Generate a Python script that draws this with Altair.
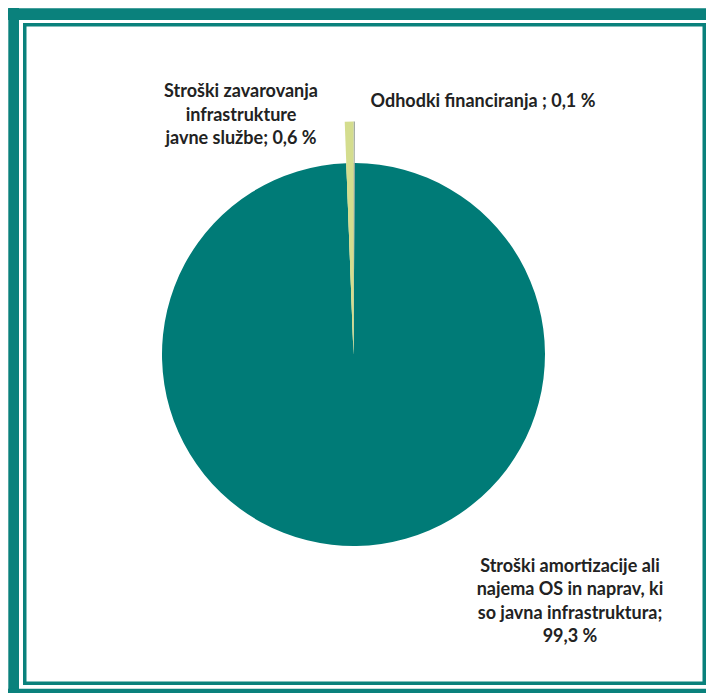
import altair as alt
import pandas as pd

# ---- data ----
categories = [
    "Odhodki financiranja",
    "Stroški amortizacije ali najema OS in naprav, ki so javna infrastruktura",
    "Stroški zavarovanja infrastrukture javne službe",
]
shares = [0.1, 99.3, 0.6]
label_lines = [
    ["Odhodki financiranja ; "],
    ["Stroški amortizacije ali", "najema OS in naprav, ki", "so javna infrastruktura;", ""],
    ["Stroški zavarovanja", "infrastrukture", "javne službe; "],
]
slice_colors = ["#9DA69C", "#007B77", "#D4DD8E"]


def fmt(v):
    return f"{v:.1f}".replace(".", ",") + " %"


labels = []
for lines, v in zip(label_lines, shares):
    ls = list(lines)
    ls[-1] = ls[-1] + fmt(v)
    labels.append("\n".join(ls))

df = pd.DataFrame({
    "idx": list(range(len(categories))),
    "cat": categories,
    "share": shares,
    "label": labels,
})

# ---- layout / style ----
W, H = 698, 685
CX, CY = 345.5, 346.5
R_MAIN = 191.5
R_EXPLODE = 233
TEAL = "#0A817C"
TXT = "#222222"

base = alt.Chart(df)
theta = alt.Theta("share:Q", stack=True)
order = alt.Order("idx:Q")
color = alt.Color("cat:N", scale=alt.Scale(domain=categories, range=slice_colors), legend=None)

pie = base.mark_arc(outerRadius=R_MAIN).encode(
    theta=theta, order=order, color=color,
    x=alt.value(CX), y=alt.value(CY),
)

exploded = base.mark_arc(outerRadius=R_EXPLODE).encode(
    theta=theta, order=order, color=color,
    opacity=alt.condition(alt.datum.idx == 1, alt.value(0), alt.value(1)),
    x=alt.value(CX), y=alt.value(CY),
)

# offsets of each label's first line from the pie centre
label_offsets = {0: (129.5, -252.5), 1: (216.5, 212), 2: (-112.5, -262.5)}
text_layers = []
for i, (ddx, ddy) in label_offsets.items():
    text_layers.append(
        base.transform_filter(alt.datum.idx == i).mark_text(
            font="Lato", fontWeight="bold", fontSize=18, lineBreak="\n",
            lineHeight=23.5, align="center", baseline="middle",
            dx=ddx, dy=ddy, color=TXT,
        ).encode(x=alt.value(CX), y=alt.value(CY), text="label:N")
    )

fdf = pd.DataFrame({"k": [0]})
fr = alt.Chart(fdf)
top_band = fr.mark_rect(color=TEAL).encode(
    x=alt.value(0), x2=alt.value(W), y=alt.value(0.3), y2=alt.value(12))
left_band = fr.mark_rect(color=TEAL).encode(
    x=alt.value(0.3), x2=alt.value(11), y=alt.value(0), y2=alt.value(H))
bottom_band = fr.mark_rect(color=TEAL).encode(
    x=alt.value(0), x2=alt.value(W), y=alt.value(680.7), y2=alt.value(H))
inner = fr.mark_rect(fillOpacity=0, stroke=TEAL, strokeWidth=3.5).encode(
    x=alt.value(16.75), x2=alt.value(W - 1.75), y=alt.value(16.75), y2=alt.value(675.25))

chart = alt.layer(
    top_band, left_band, bottom_band, inner, pie, exploded, *text_layers
).properties(
    width=W, height=H, padding=0, background="white",
    autosize=alt.AutoSizeParams(type="none"),
).configure_view(stroke=None)

chart.save("out.html", embed_options={"renderer": "svg", "actions": False})
